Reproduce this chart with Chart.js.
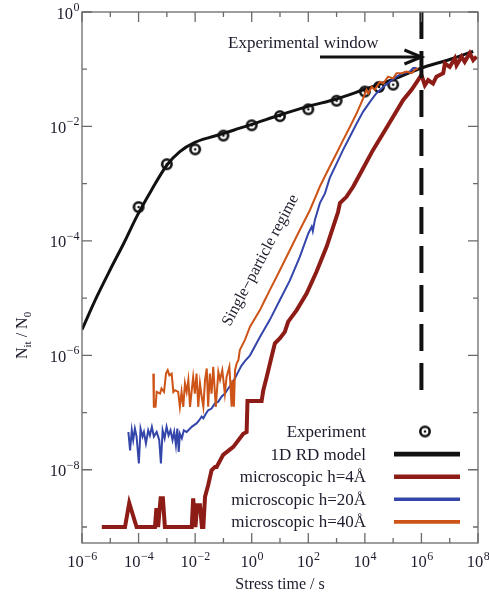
<!DOCTYPE html>
<html>
<head>
<meta charset="utf-8">
<script src="https://cdn.jsdelivr.net/npm/chart.js@4.4.1/dist/chart.umd.min.js"></script>
<style>
  html, body { margin: 0; padding: 0; background: #fff; }
  canvas { display: block; }
</style>
</head>
<body>
<canvas id="myChart" width="489" height="596"></canvas>
<script>
    // all values are log10 exponents (time in s, N_it/N_0)

    //********************* EXPERIMENT ****************
    var expLogT = [-4, -3, -2, -1, 0, 1, 2, 3, 4, 4.5, 5];
    var expLogN = [-3.41, -2.66, -2.40, -2.16, -1.98, -1.82, -1.70, -1.55, -1.39, -1.31, -1.27];

    //********************* 1D RD MODEL ****************
    var rdLogT = [-6, -5.48, -5, -4.5, -4.07, -3.54, -2.99, -2.54, -2.01, -1.48, -0.98, -0.42, 0.03, 1, 2, 3, 4, 5, 6, 7, 7.83];
    var rdLogN = [-5.55, -4.98, -4.50, -4.02, -3.58, -3.11, -2.67, -2.44, -2.28, -2.19, -2.12, -2.03, -1.96, -1.80, -1.65, -1.52, -1.35, -1.18, -0.98, -0.83, -0.69];

    //********************* MICROSCOPIC h=4A ****************
    var h4LogT = [-5.30, -4.48, -4.33, -4.07, -3.42, -3.37, -3.31, -3.22, -3.14, -3.07,
        -2.12, -2.07, -1.99, -1.93, -1.83, -1.76, -1.71, -1.65, -1.54, -1.42,
        -1.30, -1.24, -1.01, -0.65, -0.30, -0.18, -0.15, 0.35, 0.41, 0.53,
        0.70, 0.82, 1.00, 1.17, 1.29, 1.59, 1.94, 2.29, 2.65, 2.85,
        3.05, 3.12, 3.35, 3.59, 3.71, 3.94, 4.29, 4.65, 5.00, 5.35,
        5.65, 5.88, 6.00, 6.12, 6.24, 6.41, 6.53, 6.77, 6.83, 7.00,
        7.18, 7.24, 7.42, 7.53, 7.71, 7.83, 7.95];
    var h4LogN = [-9, -9, -8.58, -9, -9, -8.67, -9, -8.50, -8.50, -9,
        -9, -8.50, -9, -8.62, -8.62, -9, -9, -8.47, -8.27, -8.01,
        -7.95, -7.95, -7.74, -7.60, -7.37, -7.34, -6.80, -6.80, -6.61, -6.38,
        -6.03, -5.79, -5.70, -5.59, -5.41, -5.21, -4.92, -4.54, -4.10, -3.80,
        -3.50, -3.34, -3.23, -3.05, -2.94, -2.73, -2.41, -2.12, -1.83, -1.54,
        -1.36, -1.19, -1.10, -1.28, -1.19, -1.25, -1.13, -1.07, -0.90, -0.96,
        -0.81, -0.93, -0.78, -0.87, -0.72, -0.84, -0.78];

    //********************* MICROSCOPIC h=20A ****************
    var h20LogT = [-4.36, -4.30, -4.24, -4.19, -4.13, -4.07, -3.99, -3.93, -3.86, -3.81, -3.74, -3.66, -3.60, -3.53,
        -3.46, -3.36, -3.27, -3.21, -3.15, -3.08, -3.01, -2.94, -2.87, -2.80,
        -2.74, -2.68, -2.63, -2.58, -2.54, -2.47, -2.40, -2.30, -2.18, -2.12,
        -2.04, -1.95, -1.85, -1.77, -1.71, -1.62, -1.54, -1.42, -1.30, -1.18,
        -1.06, -0.95, -0.83, -0.71, -0.59, -0.47, -0.36, -0.24, -0.06,
        0.29, 0.64, 1.00, 1.35, 1.70, 2.00, 2.12, 2.16, 2.23, 2.41,
        2.59, 2.76, 3.00, 3.23, 3.47, 3.71, 3.94, 4.18, 4.41, 4.65,
        4.88, 5.12, 5.35, 5.59, 5.71, 5.83];
    var h20LogN = [-7.34, -7.66, -7.31, -7.48, -7.28, -7.42, -7.89, -7.28, -7.42, -7.34, -7.54, -7.31, -7.40, -7.25,
        -7.42, -7.34, -7.48, -7.89, -7.31, -7.45, -7.25, -7.40, -7.31, -7.48,
        -7.34, -7.57, -7.28, -7.69, -7.37, -7.45, -7.31, -7.34, -7.28, -7.25,
        -7.22, -7.19, -7.13, -7.07, -7.10, -7.02, -6.96, -6.93, -6.84, -6.81,
        -6.72, -6.67, -6.58, -6.50, -6.40, -6.28, -6.18, -6.10, -6.00,
        -5.68, -5.38, -5.03, -4.69, -4.28, -3.87, -3.75, -3.83, -3.64, -3.34,
        -3.17, -2.90, -2.65, -2.41, -2.18, -1.95, -1.74, -1.57, -1.42, -1.31,
        -1.22, -1.13, -1.07, -1.04, -0.98, -0.98];

    //********************* MICROSCOPIC h=40A ****************
    var h40LogT = [-3.48, -3.46, -3.40, -3.36, -3.24, -3.19, -3.10, -3.03, -2.97, -2.91,
        -2.83, -2.77, -2.71, -2.60, -2.54, -2.48, -2.42, -2.36, -2.30, -2.24,
        -2.18, -2.12, -2.07, -2.01, -1.95, -1.89, -1.83, -1.77, -1.71, -1.65,
        -1.59, -1.54, -1.48, -1.42, -1.36, -1.27, -1.18, -1.12, -1.04, -0.95,
        -0.89, -0.79, -0.71, -0.68, -0.63, -0.59, -0.53, -0.47,
        -0.42, -0.24, -0.06, 0.29, 0.47, 0.64, 1.00, 1.35, 1.70, 2.06,
        2.41, 2.76, 3.00, 3.23, 3.47, 3.71, 3.94, 4.06, 4.12, 4.24,
        4.35, 4.53, 4.65, 4.82, 5.00, 5.12, 5.30, 5.47, 5.65, 5.77, 5.88];
    var h40LogN = [-6.32, -6.90, -6.90, -6.64, -6.67, -6.58, -6.64, -6.32, -6.26, -6.35,
        -6.32, -6.64, -6.61, -6.64, -6.90, -6.64, -6.90, -6.49, -6.64, -6.43,
        -6.90, -6.61, -6.38, -6.67, -6.32, -6.90, -6.49, -6.72, -6.90, -6.43,
        -6.23, -6.90, -6.32, -6.67, -6.20, -6.90, -6.29, -6.43, -6.26, -6.67,
        -6.38, -6.20, -6.90, -6.43, -6.90, -6.26, -6.14, -6.08,
        -5.91, -5.73, -5.50, -5.21, -5.03, -4.86, -4.51, -4.16, -3.81, -3.46,
        -3.05, -2.70, -2.47, -2.24, -2.01, -1.77, -1.51, -1.36, -1.42, -1.31,
        -1.36, -1.22, -1.25, -1.13, -1.16, -1.07, -1.07, -1.04, -1.07, -1.01, -0.98];

    // axis decades
    var xMajor = [-6, -4, -2, 0, 2, 4, 6, 8];
    var xMinor = [-5, -3, -1, 1, 3, 5, 7];
    var yMajor = [0, -2, -4, -6, -8];
    var yMinor = [-1, -3, -5, -7, -9];
    var xMinExp = -6, xMaxExp = 8;
    var yMinExp = -9.28, yMaxExp = 0;

    var windowTime = 1e6;

    var serif = '"Liberation Serif", "Times New Roman", serif';
    var textColor = '#1b1b2b';

    var toPoints = function(lt, ln) {
        var pts = [];
        for (var i = 0; i < lt.length; i++) {
            pts.push({x: Math.pow(10, lt[i]), y: Math.pow(10, ln[i])});
        }
        return pts;
    };

    // circle with a dot in the middle, like the experiment symbol
    var dotRing = document.createElement('canvas');
    dotRing.width = 16; dotRing.height = 16;
    var dc = dotRing.getContext('2d');
    dc.beginPath();
    dc.arc(8, 8, 4.7, 0, 2 * Math.PI);
    dc.lineWidth = 2.6;
    dc.strokeStyle = '#111';
    dc.stroke();
    dc.beginPath();
    dc.arc(8, 8, 1.3, 0, 2 * Math.PI);
    dc.fillStyle = '#111';
    dc.fill();

    var legendThick = [0, 4.7, 4.5, 3.5, 3.8];

    var drawPow = function(ctx, exp, x, y, align) {
        var base = '10';
        var sup = exp < 0 ? '\u2212' + (-exp) : '' + exp;
        ctx.font = '16.5px ' + serif;
        var wb = ctx.measureText(base).width;
        ctx.font = '12px ' + serif;
        var ws = ctx.measureText(sup).width;
        var start = align == 'right' ? x - wb - ws : x - (wb + ws) / 2;
        ctx.textAlign = 'left';
        ctx.font = '16.5px ' + serif;
        ctx.fillText(base, start, y);
        ctx.font = '12px ' + serif;
        ctx.fillText(sup, start + wb + 0.5, y - 7.5);
    };

    var decor = {
        id: 'decor',
        afterDatasetsDraw: function(chart) {
            var ctx = chart.ctx;
            var xs = chart.scales.x;
            var a = chart.chartArea;
            var wx = xs.getPixelForValue(windowTime);
            ctx.save();
            // dashed line at the end of the experimental window
            ctx.strokeStyle = '#111';
            ctx.lineWidth = 4;
            ctx.setLineDash([27, 12]);
            ctx.beginPath();
            ctx.moveTo(wx, a.top);
            ctx.lineTo(wx, 390);
            ctx.stroke();
            ctx.setLineDash([]);
            // arrow
            ctx.lineWidth = 3;
            ctx.beginPath();
            ctx.moveTo(320, 57);
            ctx.lineTo(wx - 1, 57);
            ctx.stroke();
            ctx.beginPath();
            ctx.moveTo(wx - 17, 50);
            ctx.lineTo(wx, 57);
            ctx.lineTo(wx - 17, 64);
            ctx.stroke();
            ctx.restore();
        },
        afterDraw: function(chart) {
            var ctx = chart.ctx;
            var xs = chart.scales.x, ys = chart.scales.y;
            var a = chart.chartArea;
            var i, p;
            ctx.save();
            // frame
            ctx.strokeStyle = '#6a6a6a';
            ctx.lineWidth = 1.3;
            ctx.strokeRect(a.left, a.top, a.right - a.left, a.bottom - a.top);
            // inward ticks on all sides
            var tick = function(vals, len, isX) {
                for (var k = 0; k < vals.length; k++) {
                    ctx.beginPath();
                    if (isX) {
                        p = xs.getPixelForValue(Math.pow(10, vals[k]));
                        ctx.moveTo(p, a.bottom); ctx.lineTo(p, a.bottom - len);
                        ctx.moveTo(p, a.top); ctx.lineTo(p, a.top + len);
                    } else {
                        p = ys.getPixelForValue(Math.pow(10, vals[k]));
                        ctx.moveTo(a.left, p); ctx.lineTo(a.left + len, p);
                        ctx.moveTo(a.right, p); ctx.lineTo(a.right - len, p);
                    }
                    ctx.stroke();
                }
            };
            tick(xMajor, 10, true);
            tick(xMinor, 5, true);
            tick(yMajor, 10, false);
            tick(yMinor, 5, false);

            // tick labels
            ctx.fillStyle = textColor;
            ctx.textBaseline = 'alphabetic';
            for (i = 0; i < xMajor.length; i++) {
                p = xs.getPixelForValue(Math.pow(10, xMajor[i]));
                drawPow(ctx, xMajor[i], p, 567, 'center');
            }
            for (i = 0; i < yMajor.length; i++) {
                p = ys.getPixelForValue(Math.pow(10, yMajor[i]));
                drawPow(ctx, yMajor[i], 79, p + 6.5, 'right');
            }

            // axis titles
            ctx.font = '16px ' + serif;
            ctx.textAlign = 'center';
            ctx.fillText('Stress time / s', (a.left + a.right) / 2, 589);

            ctx.save();
            ctx.translate(27, 359);
            ctx.rotate(-Math.PI / 2);
            ctx.textAlign = 'left';
            var cx = 0;
            ctx.font = '16px ' + serif;
            ctx.fillText('N', cx, 0); cx += ctx.measureText('N').width;
            ctx.font = '11px ' + serif;
            ctx.fillText('it', cx, 3.5); cx += ctx.measureText('it').width;
            ctx.font = '16px ' + serif;
            ctx.fillText(' / N', cx, 0); cx += ctx.measureText(' / N').width;
            ctx.font = '11px ' + serif;
            ctx.fillText('0', cx, 3.5);
            ctx.restore();

            // annotations
            ctx.font = '17px ' + serif;
            ctx.textAlign = 'left';
            ctx.fillText('Experimental window', 228, 48);

            ctx.save();
            ctx.translate(230, 327);
            ctx.rotate(-62 * Math.PI / 180);
            ctx.font = '16px ' + serif;
            ctx.fillText('Single\u2212particle regime', 0, 0);
            ctx.restore();

            // legend
            var ds = chart.data.datasets;
            for (i = 0; i < ds.length; i++) {
                var ry = 431.5 + i * 22.6;
                ctx.font = '17px ' + serif;
                ctx.textAlign = 'right';
                ctx.fillStyle = textColor;
                ctx.fillText(ds[i].label, 366, ry + 5.5);
                if (i == 0) {
                    ctx.drawImage(dotRing, 425 - 8, ry - 8);
                } else {
                    ctx.strokeStyle = ds[i].borderColor;
                    ctx.lineWidth = legendThick[i];
                    ctx.beginPath();
                    ctx.moveTo(394, ry);
                    ctx.lineTo(460, ry);
                    ctx.stroke();
                }
            }
            ctx.restore();
        }
    };

    var data = {
        datasets: [
            {
                label: 'Experiment',
                data: toPoints(expLogT, expLogN),
                showLine: false,
                pointStyle: dotRing,
                pointRadius: 6,
                borderColor: '#111',
                order: 4
            },
            {
                label: '1D RD model',
                data: toPoints(rdLogT, rdLogN),
                borderColor: '#111',
                borderWidth: 3,
                pointRadius: 0,
                cubicInterpolationMode: 'monotone',
                order: 3
            },
            {
                label: 'microscopic h=4\u00c5',
                data: toPoints(h4LogT, h4LogN),
                borderColor: '#8e1c16',
                borderWidth: 4,
                pointRadius: 0,
                tension: 0,
                order: 2
            },
            {
                label: 'microscopic h=20\u00c5',
                data: toPoints(h20LogT, h20LogN),
                borderColor: '#3446aa',
                borderWidth: 2,
                pointRadius: 0,
                tension: 0,
                order: 1
            },
            {
                label: 'microscopic h=40\u00c5',
                data: toPoints(h40LogT, h40LogN),
                borderColor: '#cd5316',
                borderWidth: 2,
                pointRadius: 0,
                tension: 0,
                order: 0
            }
        ]
    };

    window.onload = function() {
        var ctx = document.getElementById('myChart').getContext('2d');
        var myChart = new Chart(ctx, {
            type: 'line',
            data: data,
            options: {
                responsive: false,
                animation: false,
                devicePixelRatio: 1,
                layout: {padding: {top: 12, right: 11, left: 0, bottom: 0}},
                plugins: {legend: {display: false}, tooltip: {enabled: false}},
                scales: {
                    x: {
                        type: 'logarithmic',
                        min: Math.pow(10, xMinExp),
                        max: Math.pow(10, xMaxExp),
                        ticks: {display: false},
                        grid: {display: false},
                        border: {display: false},
                        afterFit: function(s) { s.height = 53; }
                    },
                    y: {
                        type: 'logarithmic',
                        min: Math.pow(10, yMinExp),
                        max: Math.pow(10, yMaxExp),
                        ticks: {display: false},
                        grid: {display: false},
                        border: {display: false},
                        afterFit: function(s) { s.width = 82; }
                    }
                }
            },
            plugins: [decor]
        });
    };
</script>
</body>
</html>
